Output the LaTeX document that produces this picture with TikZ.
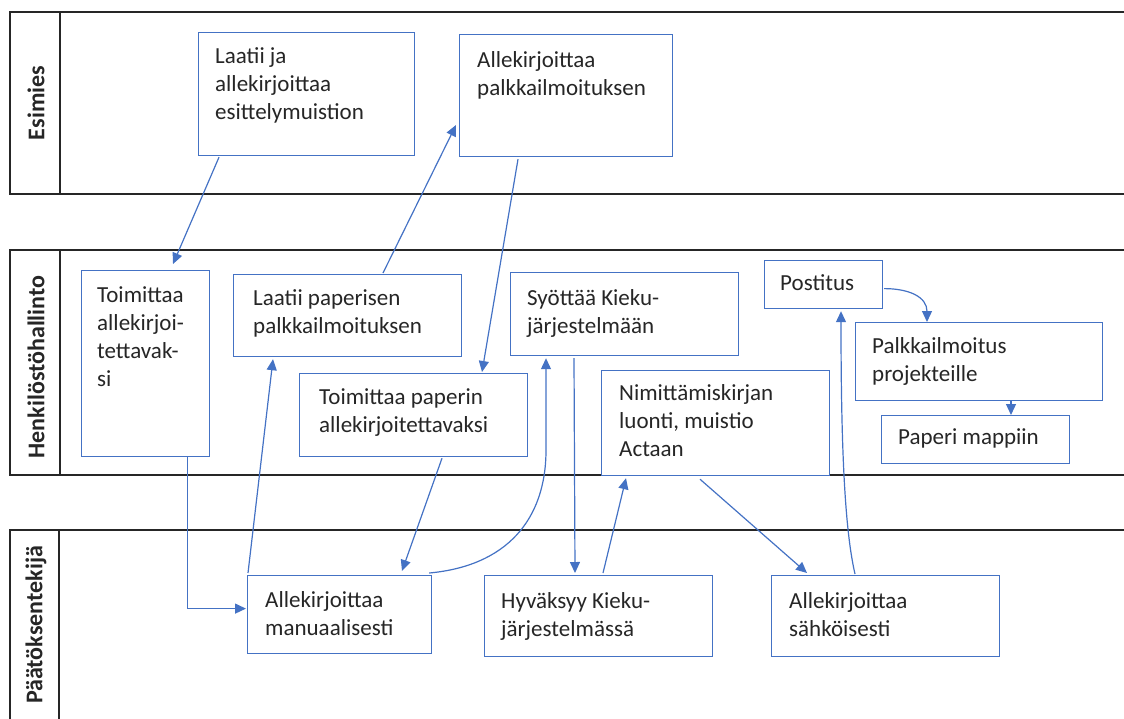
\documentclass[tikz,border=0pt]{standalone}
\usepackage{fontspec}
\setmainfont{Carlito}
\usetikzlibrary{arrows.meta}
\definecolor{flowblue}{HTML}{4472C4}
\definecolor{laneline}{HTML}{262626}
\begin{document}
\begin{tikzpicture}[x=1pt,y=-1pt,
  lane/.style={draw=laneline,line width=1.5pt},
  lanelabel/.style={rotate=90,font=\fontsize{24}{28}\selectfont\bfseries,text=black!85},
  box/.style={draw=flowblue,fill=white,line width=1.2pt,inner sep=0pt,anchor=north west},
  txt/.style={inner sep=0pt,anchor=north west,align=left,text=black!85,
    font=\fontsize{23}{28}\selectfont},
  arr/.style={draw=flowblue,line width=1.2pt,-{Triangle[length=11pt,width=10pt]}}]
\useasboundingbox (0,0) rectangle (1124,718);

% swimlanes (open on the right)
\draw[lane] (1140,12) -- (10,12) -- (10,194) -- (1140,194);
\draw[lane] (60,12) -- (60,194);
\draw[lane] (1140,250) -- (10,250) -- (10,475) -- (1140,475);
\draw[lane] (60,250) -- (60,475);
\draw[lane] (1140,530) -- (10,530) -- (10,730);
\draw[lane] (59,530) -- (59,730);
\node[lanelabel] (l1) at (36,103) {Esimies};
\node[lanelabel] (l2) at (36,367) {Henkilöstöhallinto};
\node[lanelabel] (l3) at (36,625) {Päätöksentekijä};

% process boxes
\node[box,minimum width=216pt,minimum height=123pt] (A) at (198,32) {};
\node[box,minimum width=213pt,minimum height=122pt] (B) at (459,34) {};
\node[box,minimum width=128pt,minimum height=186pt] (C) at (81,270) {};
\node[box,minimum width=228pt,minimum height=82pt] (D) at (233,274) {};
\node[box,minimum width=228pt,minimum height=83pt] (E) at (299,373) {};
\node[box,minimum width=228pt,minimum height=83pt] (F) at (510,272) {};
\node[box,minimum width=228pt,minimum height=105pt] (G) at (601,370) {};
\node[box,minimum width=118pt,minimum height=48pt] (H) at (764,260) {};
\node[box,minimum width=247pt,minimum height=78pt] (I) at (855,322) {};
\node[box,minimum width=188pt,minimum height=48pt] (J) at (881,415) {};
\node[box,minimum width=184pt,minimum height=78pt] (K) at (247,575) {};
\node[box,minimum width=228pt,minimum height=81pt] (L) at (484,575) {};
\node[box,minimum width=228pt,minimum height=81pt] (M) at (771,575) {};

% box texts (first baseline 18pt below the text node top)
\node[txt] (At) at ([xshift=17pt,yshift=-13pt]A.north west) {\rule{0pt}{18pt}Laatii ja\\allekirjoittaa\\esittelymuistion};
\node[txt] (Bt) at ([xshift=18pt,yshift=-15pt]B.north west) {\rule{0pt}{18pt}Allekirjoittaa\\palkkailmoituksen};
\node[txt] (Ct) at ([xshift=16pt,yshift=-14pt]C.north west) {\rule{0pt}{18pt}Toimittaa\\allekirjoi-\\tettavak-\\si};
\node[txt] (Dt) at ([xshift=20pt,yshift=-13pt]D.north west) {\rule{0pt}{18pt}Laatii paperisen\\palkkailmoituksen};
\node[txt] (Et) at ([xshift=20pt,yshift=-13pt]E.north west) {\rule{0pt}{18pt}Toimittaa paperin\\allekirjoitettavaksi};
\node[txt] (Ft) at ([xshift=17pt,yshift=-15pt]F.north west) {\rule{0pt}{18pt}Syöttää Kieku-\\järjestelmään};
\node[txt] (Gt) at ([xshift=18pt,yshift=-12pt]G.north west) {\rule{0pt}{18pt}Nimittämiskirjan\\luonti, muistio\\Actaan};
\node[txt] (Ht) at ([xshift=16pt,yshift=-12pt]H.north west) {\rule{0pt}{18pt}Postitus};
\node[txt] (It) at ([xshift=17pt,yshift=-13pt]I.north west) {\rule{0pt}{18pt}Palkkailmoitus\\projekteille};
\node[txt] (Jt) at ([xshift=17pt,yshift=-11pt]J.north west) {\rule{0pt}{18pt}Paperi mappiin};
\node[txt] (Kt) at ([xshift=18pt,yshift=-14pt]K.north west) {\rule{0pt}{18pt}Allekirjoittaa\\manuaalisesti};
\node[txt] (Lt) at ([xshift=17pt,yshift=-15pt]L.north west) {\rule{0pt}{18pt}Hyväksyy Kieku-\\järjestelmässä};
\node[txt] (Mt) at ([xshift=18pt,yshift=-15pt]M.north west) {\rule{0pt}{18pt}Allekirjoittaa\\sähköisesti};

% connectors
\draw[arr] ([xshift=21pt,yshift=-1pt]A.south west) -- ([xshift=92pt,yshift=6pt]C.north west);
\draw[arr] ([xshift=150pt,yshift=1pt]D.north west) -- ([xshift=-3pt,yshift=-91pt]B.north west);
\draw[arr] ([xshift=59pt,yshift=-2pt]B.south west) -- ([xshift=183pt,yshift=1pt]E.north west);
\draw[arr,line width=1.4pt] ([xshift=-15pt,yshift=1pt]C.south) -- ([xshift=42pt,yshift=1pt]C.south) |- ([xshift=-1pt,yshift=6pt]K.west);
\draw[arr] ([xshift=1pt,yshift=2pt]K.north west) -- ([xshift=40pt,yshift=-2pt]D.south west);
\draw[arr] ([xshift=143pt,yshift=-1pt]E.south west) -- ([xshift=155pt,yshift=4pt]K.north west);
\coordinate (kf) at (546,450);
\draw[arr] ([xshift=-3pt,yshift=2pt]K.north east) .. controls +(77,-7) and +(0,70) .. (kf) -- ([xshift=36pt,yshift=-2pt]F.south west);
\draw[arr] ([xshift=64pt,yshift=-2pt]F.south west) -- ([xshift=91pt,yshift=2pt]L.north west);
\draw[arr] ([xshift=119pt,yshift=2pt]L.north west) -- ([xshift=25pt,yshift=-2pt]G.south west);
\draw[arr] ([xshift=99pt,yshift=-3pt]G.south west) -- ([xshift=36pt,yshift=2pt]M.north west);
\draw[arr] ([xshift=84pt,yshift=1pt]M.north west) .. controls +(-10,-43) and +(0,140) .. ([xshift=77pt,yshift=-2pt]H.south west);
\draw[arr] ([xshift=1pt,yshift=-4pt]H.east) .. controls +(25,0) and +(0,-25) .. ([xshift=72pt]I.north west);
\draw[arr] ([xshift=156pt]I.south west) -- ([xshift=130pt]J.north west);
\end{tikzpicture}
\end{document}
